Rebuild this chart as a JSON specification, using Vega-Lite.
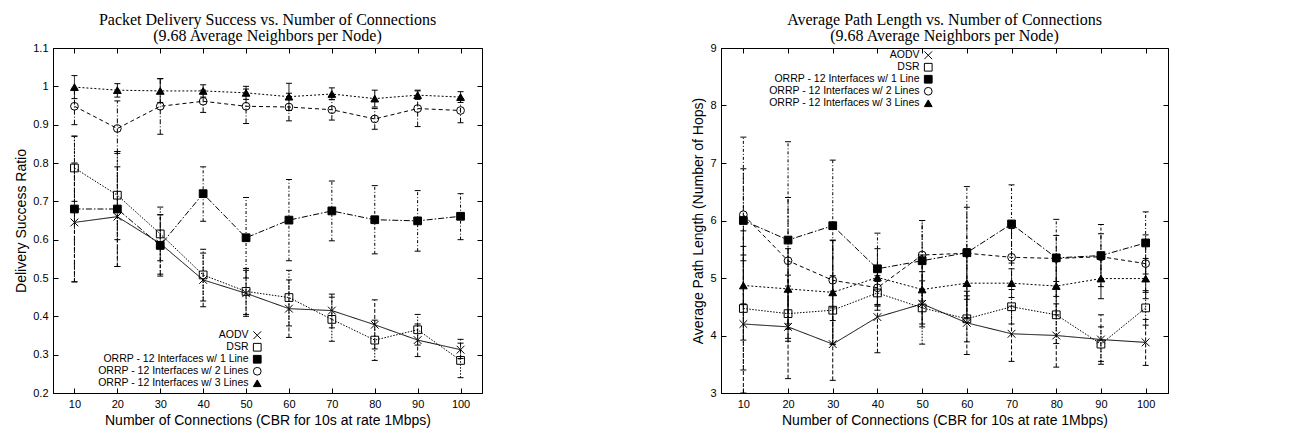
{
  "$schema": "https://vega.github.io/schema/vega-lite/v6.json",
  "padding": {"left": 14, "top": 11, "right": 5, "bottom": 2},
  "background": "white",
  "config": {
    "view": {"stroke": "black", "strokeWidth": 1},
    "axis": {"domainColor": "black", "tickColor": "black", "labelColor": "black", "titleColor": "black", "labelFont": "Liberation Sans", "titleFont": "Liberation Sans", "labelFontSize": 11, "titleFontSize": 14, "titleFontWeight": "normal", "grid": false, "tickSize": -5, "labelPadding": 10},
    "title": {"font": "Liberation Serif", "fontSize": 16, "fontWeight": "normal", "color": "black", "lineHeight": 16, "offset": -2},
    "legend": {"title": null, "labelFont": "Liberation Sans", "labelFontSize": 10.5, "labelColor": "black", "rowPadding": -1.8, "padding": 0, "symbolStrokeColor": "black", "symbolStrokeWidth": 1}
  },
  "datasets": {
    "pdr": [
      {"n": 10, "series": "AODV", "mean": 0.645, "lo": 0.49, "hi": 0.80},
      {"n": 20, "series": "AODV", "mean": 0.66, "lo": 0.53, "hi": 0.79},
      {"n": 30, "series": "AODV", "mean": 0.59, "lo": 0.51, "hi": 0.665},
      {"n": 40, "series": "AODV", "mean": 0.495, "lo": 0.425, "hi": 0.565},
      {"n": 50, "series": "AODV", "mean": 0.46, "lo": 0.40, "hi": 0.52},
      {"n": 60, "series": "AODV", "mean": 0.42, "lo": 0.345, "hi": 0.495},
      {"n": 70, "series": "AODV", "mean": 0.415, "lo": 0.37, "hi": 0.458},
      {"n": 80, "series": "AODV", "mean": 0.378, "lo": 0.315, "hi": 0.443},
      {"n": 90, "series": "AODV", "mean": 0.338, "lo": 0.295, "hi": 0.38},
      {"n": 100, "series": "AODV", "mean": 0.313, "lo": 0.29, "hi": 0.34},
      {"n": 10, "series": "DSR", "mean": 0.787, "lo": 0.70, "hi": 0.87},
      {"n": 20, "series": "DSR", "mean": 0.716, "lo": 0.60, "hi": 0.83},
      {"n": 30, "series": "DSR", "mean": 0.615, "lo": 0.545, "hi": 0.685},
      {"n": 40, "series": "DSR", "mean": 0.508, "lo": 0.44, "hi": 0.575},
      {"n": 50, "series": "DSR", "mean": 0.465, "lo": 0.405, "hi": 0.525},
      {"n": 60, "series": "DSR", "mean": 0.449, "lo": 0.375, "hi": 0.52},
      {"n": 70, "series": "DSR", "mean": 0.392, "lo": 0.335, "hi": 0.45},
      {"n": 80, "series": "DSR", "mean": 0.338, "lo": 0.285, "hi": 0.39},
      {"n": 90, "series": "DSR", "mean": 0.365, "lo": 0.325, "hi": 0.405},
      {"n": 100, "series": "DSR", "mean": 0.285, "lo": 0.24, "hi": 0.33},
      {"n": 10, "series": "ORRP - 12 Interfaces w/ 1 Line", "mean": 0.68, "lo": 0.49, "hi": 0.87},
      {"n": 20, "series": "ORRP - 12 Interfaces w/ 1 Line", "mean": 0.68, "lo": 0.53, "hi": 0.83},
      {"n": 30, "series": "ORRP - 12 Interfaces w/ 1 Line", "mean": 0.585, "lo": 0.505, "hi": 0.665},
      {"n": 40, "series": "ORRP - 12 Interfaces w/ 1 Line", "mean": 0.72, "lo": 0.648, "hi": 0.79},
      {"n": 50, "series": "ORRP - 12 Interfaces w/ 1 Line", "mean": 0.605, "lo": 0.50, "hi": 0.71},
      {"n": 60, "series": "ORRP - 12 Interfaces w/ 1 Line", "mean": 0.651, "lo": 0.545, "hi": 0.757},
      {"n": 70, "series": "ORRP - 12 Interfaces w/ 1 Line", "mean": 0.675, "lo": 0.597, "hi": 0.753},
      {"n": 80, "series": "ORRP - 12 Interfaces w/ 1 Line", "mean": 0.652, "lo": 0.563, "hi": 0.741},
      {"n": 90, "series": "ORRP - 12 Interfaces w/ 1 Line", "mean": 0.649, "lo": 0.57, "hi": 0.728},
      {"n": 100, "series": "ORRP - 12 Interfaces w/ 1 Line", "mean": 0.661, "lo": 0.60, "hi": 0.72},
      {"n": 10, "series": "ORRP - 12 Interfaces w/ 2 Lines", "mean": 0.948, "lo": 0.90, "hi": 0.995},
      {"n": 20, "series": "ORRP - 12 Interfaces w/ 2 Lines", "mean": 0.89, "lo": 0.825, "hi": 0.962},
      {"n": 30, "series": "ORRP - 12 Interfaces w/ 2 Lines", "mean": 0.948, "lo": 0.875, "hi": 1.02},
      {"n": 40, "series": "ORRP - 12 Interfaces w/ 2 Lines", "mean": 0.961, "lo": 0.932, "hi": 0.99},
      {"n": 50, "series": "ORRP - 12 Interfaces w/ 2 Lines", "mean": 0.948, "lo": 0.903, "hi": 0.993},
      {"n": 60, "series": "ORRP - 12 Interfaces w/ 2 Lines", "mean": 0.946, "lo": 0.91, "hi": 0.982},
      {"n": 70, "series": "ORRP - 12 Interfaces w/ 2 Lines", "mean": 0.939, "lo": 0.912, "hi": 0.966},
      {"n": 80, "series": "ORRP - 12 Interfaces w/ 2 Lines", "mean": 0.915, "lo": 0.888, "hi": 0.942},
      {"n": 90, "series": "ORRP - 12 Interfaces w/ 2 Lines", "mean": 0.942, "lo": 0.895, "hi": 0.99},
      {"n": 100, "series": "ORRP - 12 Interfaces w/ 2 Lines", "mean": 0.937, "lo": 0.905, "hi": 0.968},
      {"n": 10, "series": "ORRP - 12 Interfaces w/ 3 Lines", "mean": 0.998, "lo": 0.968, "hi": 1.028},
      {"n": 20, "series": "ORRP - 12 Interfaces w/ 3 Lines", "mean": 0.99, "lo": 0.972, "hi": 1.007},
      {"n": 30, "series": "ORRP - 12 Interfaces w/ 3 Lines", "mean": 0.988, "lo": 0.958, "hi": 1.02},
      {"n": 40, "series": "ORRP - 12 Interfaces w/ 3 Lines", "mean": 0.988, "lo": 0.972, "hi": 1.004},
      {"n": 50, "series": "ORRP - 12 Interfaces w/ 3 Lines", "mean": 0.983, "lo": 0.966, "hi": 1.0},
      {"n": 60, "series": "ORRP - 12 Interfaces w/ 3 Lines", "mean": 0.973, "lo": 0.937, "hi": 1.008},
      {"n": 70, "series": "ORRP - 12 Interfaces w/ 3 Lines", "mean": 0.98, "lo": 0.965, "hi": 0.996},
      {"n": 80, "series": "ORRP - 12 Interfaces w/ 3 Lines", "mean": 0.968, "lo": 0.946, "hi": 0.99},
      {"n": 90, "series": "ORRP - 12 Interfaces w/ 3 Lines", "mean": 0.977, "lo": 0.966, "hi": 0.988},
      {"n": 100, "series": "ORRP - 12 Interfaces w/ 3 Lines", "mean": 0.972, "lo": 0.958, "hi": 0.986}
    ],
    "path": [
      {"n": 10, "series": "AODV", "mean": 4.2, "lo": 3.0, "hi": 5.4},
      {"n": 20, "series": "AODV", "mean": 4.15, "lo": 3.25, "hi": 5.05},
      {"n": 30, "series": "AODV", "mean": 3.85, "lo": 3.22, "hi": 4.48},
      {"n": 40, "series": "AODV", "mean": 4.32, "lo": 3.7, "hi": 4.94},
      {"n": 50, "series": "AODV", "mean": 4.55, "lo": 4.15, "hi": 4.95},
      {"n": 60, "series": "AODV", "mean": 4.22, "lo": 3.67, "hi": 4.77},
      {"n": 70, "series": "AODV", "mean": 4.03, "lo": 3.55, "hi": 4.51},
      {"n": 80, "series": "AODV", "mean": 4.0, "lo": 3.45, "hi": 4.55},
      {"n": 90, "series": "AODV", "mean": 3.93, "lo": 3.5, "hi": 4.36},
      {"n": 100, "series": "AODV", "mean": 3.88, "lo": 3.48, "hi": 4.28},
      {"n": 10, "series": "DSR", "mean": 4.47, "lo": 3.4, "hi": 5.55},
      {"n": 20, "series": "DSR", "mean": 4.38, "lo": 3.9, "hi": 4.86},
      {"n": 30, "series": "DSR", "mean": 4.44, "lo": 3.84, "hi": 5.04},
      {"n": 40, "series": "DSR", "mean": 4.74, "lo": 4.44, "hi": 5.04},
      {"n": 50, "series": "DSR", "mean": 4.48, "lo": 3.85, "hi": 5.11},
      {"n": 60, "series": "DSR", "mean": 4.29, "lo": 3.89, "hi": 4.69},
      {"n": 70, "series": "DSR", "mean": 4.5, "lo": 4.2, "hi": 4.8},
      {"n": 80, "series": "DSR", "mean": 4.36, "lo": 3.86, "hi": 4.86},
      {"n": 90, "series": "DSR", "mean": 3.85, "lo": 3.55, "hi": 4.15},
      {"n": 100, "series": "DSR", "mean": 4.48, "lo": 4.18, "hi": 4.78},
      {"n": 10, "series": "ORRP - 12 Interfaces w/ 1 Line", "mean": 6.0, "lo": 4.55, "hi": 7.45},
      {"n": 20, "series": "ORRP - 12 Interfaces w/ 1 Line", "mean": 5.66, "lo": 3.95, "hi": 7.37},
      {"n": 30, "series": "ORRP - 12 Interfaces w/ 1 Line", "mean": 5.91, "lo": 4.77, "hi": 7.05},
      {"n": 40, "series": "ORRP - 12 Interfaces w/ 1 Line", "mean": 5.16, "lo": 4.54, "hi": 5.78},
      {"n": 50, "series": "ORRP - 12 Interfaces w/ 1 Line", "mean": 5.3, "lo": 4.6, "hi": 6.0},
      {"n": 60, "series": "ORRP - 12 Interfaces w/ 1 Line", "mean": 5.44, "lo": 4.29, "hi": 6.59},
      {"n": 70, "series": "ORRP - 12 Interfaces w/ 1 Line", "mean": 5.94, "lo": 5.26, "hi": 6.62},
      {"n": 80, "series": "ORRP - 12 Interfaces w/ 1 Line", "mean": 5.35, "lo": 4.68, "hi": 6.02},
      {"n": 90, "series": "ORRP - 12 Interfaces w/ 1 Line", "mean": 5.39, "lo": 4.85, "hi": 5.93},
      {"n": 100, "series": "ORRP - 12 Interfaces w/ 1 Line", "mean": 5.61, "lo": 5.07, "hi": 6.15},
      {"n": 10, "series": "ORRP - 12 Interfaces w/ 2 Lines", "mean": 6.1, "lo": 5.3, "hi": 6.9},
      {"n": 20, "series": "ORRP - 12 Interfaces w/ 2 Lines", "mean": 5.3, "lo": 4.2, "hi": 6.4},
      {"n": 30, "series": "ORRP - 12 Interfaces w/ 2 Lines", "mean": 4.96, "lo": 4.26, "hi": 5.66},
      {"n": 40, "series": "ORRP - 12 Interfaces w/ 2 Lines", "mean": 4.83, "lo": 4.53, "hi": 5.13},
      {"n": 50, "series": "ORRP - 12 Interfaces w/ 2 Lines", "mean": 5.4, "lo": 4.8, "hi": 6.0},
      {"n": 60, "series": "ORRP - 12 Interfaces w/ 2 Lines", "mean": 5.43, "lo": 4.63, "hi": 6.23},
      {"n": 70, "series": "ORRP - 12 Interfaces w/ 2 Lines", "mean": 5.36, "lo": 4.86, "hi": 5.86},
      {"n": 80, "series": "ORRP - 12 Interfaces w/ 2 Lines", "mean": 5.34, "lo": 4.94, "hi": 5.74},
      {"n": 90, "series": "ORRP - 12 Interfaces w/ 2 Lines", "mean": 5.37, "lo": 4.97, "hi": 5.77},
      {"n": 100, "series": "ORRP - 12 Interfaces w/ 2 Lines", "mean": 5.25, "lo": 4.75, "hi": 5.75},
      {"n": 10, "series": "ORRP - 12 Interfaces w/ 3 Lines", "mean": 4.87, "lo": 3.92, "hi": 5.82},
      {"n": 20, "series": "ORRP - 12 Interfaces w/ 3 Lines", "mean": 4.81, "lo": 4.11, "hi": 5.51},
      {"n": 30, "series": "ORRP - 12 Interfaces w/ 3 Lines", "mean": 4.75, "lo": 3.85, "hi": 5.65},
      {"n": 40, "series": "ORRP - 12 Interfaces w/ 3 Lines", "mean": 5.01, "lo": 4.51, "hi": 5.51},
      {"n": 50, "series": "ORRP - 12 Interfaces w/ 3 Lines", "mean": 4.8, "lo": 4.2, "hi": 5.4},
      {"n": 60, "series": "ORRP - 12 Interfaces w/ 3 Lines", "mean": 4.91, "lo": 4.31, "hi": 5.51},
      {"n": 70, "series": "ORRP - 12 Interfaces w/ 3 Lines", "mean": 4.91, "lo": 4.66, "hi": 5.16},
      {"n": 80, "series": "ORRP - 12 Interfaces w/ 3 Lines", "mean": 4.86, "lo": 4.36, "hi": 5.36},
      {"n": 90, "series": "ORRP - 12 Interfaces w/ 3 Lines", "mean": 4.99, "lo": 4.64, "hi": 5.34},
      {"n": 100, "series": "ORRP - 12 Interfaces w/ 3 Lines", "mean": 4.99, "lo": 4.64, "hi": 5.34}
    ]
  },
  "spacing": 208,
  "resolve": {"scale": {"x": "independent", "y": "independent", "shape": "independent", "fill": "independent", "stroke": "independent", "size": "independent", "strokeDash": "independent"}, "legend": {"shape": "independent", "fill": "independent", "stroke": "independent", "size": "independent", "strokeDash": "independent"}},
  "hconcat": [
    {
      "width": 429,
      "height": 345,
      "title": {"text": ["Packet Delivery Success vs. Number of Connections", "(9.68 Average Neighbors per Node)"]},
      "data": {"name": "pdr"},
      "resolve": {"axis": {"x": "independent", "y": "independent"}, "scale": {"strokeDash": "independent"}},
      "layer": [
        {
          "mark": {"type": "rule", "color": "black", "strokeWidth": 1},
          "encoding": {
            "x": {"field": "n", "type": "quantitative", "scale": {"domain": [5, 105], "nice": false}, "axis": null},
            "y": {"field": "lo", "type": "quantitative", "scale": {"domain": [0.2, 1.1], "nice": false, "zero": false}, "axis": null},
            "y2": {"field": "hi"},
            "strokeDash": {"field": "series", "type": "nominal", "legend": null, "scale": {"domain": ["AODV", "DSR", "ORRP - 12 Interfaces w/ 1 Line", "ORRP - 12 Interfaces w/ 2 Lines", "ORRP - 12 Interfaces w/ 3 Lines"], "range": [[4, 2], [1.5, 1.5], [3, 2, 1, 2], [5, 2, 1, 2], [1, 0]]}}
          }
        },
        {
          "mark": {"type": "tick", "orient": "horizontal", "size": 6, "thickness": 1, "color": "black", "opacity": 1},
          "encoding": {
            "x": {"field": "n", "type": "quantitative", "scale": {"domain": [5, 105], "nice": false}, "axis": null},
            "y": {"field": "lo", "type": "quantitative", "scale": {"domain": [0.2, 1.1], "nice": false, "zero": false}, "axis": null}
          }
        },
        {
          "mark": {"type": "tick", "orient": "horizontal", "size": 6, "thickness": 1, "color": "black", "opacity": 1},
          "encoding": {
            "x": {"field": "n", "type": "quantitative", "scale": {"domain": [5, 105], "nice": false}, "axis": null},
            "y": {"field": "hi", "type": "quantitative", "scale": {"domain": [0.2, 1.1], "nice": false, "zero": false}, "axis": null}
          }
        },
        {
          "mark": {"type": "line", "color": "black", "strokeWidth": 1},
          "encoding": {
            "x": {"field": "n", "type": "quantitative", "scale": {"domain": [5, 105], "nice": false}, "axis": {"title": "Number of Connections (CBR for 10s at rate 1Mbps)", "values": [10, 20, 30, 40, 50, 60, 70, 80, 90, 100]}},
            "y": {"field": "mean", "type": "quantitative", "scale": {"domain": [0.2, 1.1], "nice": false, "zero": false}, "axis": {"title": "Delivery Success Ratio", "values": [0.2, 0.3, 0.4, 0.5, 0.6, 0.7, 0.8, 0.9, 1.0, 1.1], "format": ".1~f"}},
            "strokeDash": {"field": "series", "type": "nominal", "legend": null, "scale": {"domain": ["AODV", "DSR", "ORRP - 12 Interfaces w/ 1 Line", "ORRP - 12 Interfaces w/ 2 Lines", "ORRP - 12 Interfaces w/ 3 Lines"], "range": [[1, 0], [1.5, 1.5], [6, 2, 1.5, 2], [4, 3], [2, 2]]}}
          }
        },
        {
          "mark": {"type": "point", "strokeWidth": 1, "opacity": 1},
          "encoding": {
            "x": {"field": "n", "type": "quantitative", "scale": {"domain": [5, 105], "nice": false}, "axis": {"orient": "top", "labels": false, "title": null, "domain": false, "values": [10, 20, 30, 40, 50, 60, 70, 80, 90, 100]}},
            "y": {"field": "mean", "type": "quantitative", "scale": {"domain": [0.2, 1.1], "nice": false, "zero": false}, "axis": {"orient": "right", "labels": false, "title": null, "domain": false, "values": [0.2, 0.3, 0.4, 0.5, 0.6, 0.7, 0.8, 0.9, 1.0, 1.1]}},
            "shape": {"field": "series", "type": "nominal", "scale": {"domain": ["AODV", "DSR", "ORRP - 12 Interfaces w/ 1 Line", "ORRP - 12 Interfaces w/ 2 Lines", "ORRP - 12 Interfaces w/ 3 Lines"], "range": ["M-1,-1L1,1M-1,1L1,-1", "square", "square", "circle", "triangle-up"]}, "legend": {"orient": "none", "legendX": 199, "legendY": 282, "labelAlign": "right", "labelOffset": -14, "rowPadding": -1.8}},
            "fill": {"field": "series", "type": "nominal", "scale": {"domain": ["AODV", "DSR", "ORRP - 12 Interfaces w/ 1 Line", "ORRP - 12 Interfaces w/ 2 Lines", "ORRP - 12 Interfaces w/ 3 Lines"], "range": ["transparent", "transparent", "black", "transparent", "black"]}, "legend": {"orient": "none", "legendX": 199, "legendY": 282, "labelAlign": "right", "labelOffset": -14, "rowPadding": -1.8}},
            "stroke": {"field": "series", "type": "nominal", "scale": {"domain": ["AODV", "DSR", "ORRP - 12 Interfaces w/ 1 Line", "ORRP - 12 Interfaces w/ 2 Lines", "ORRP - 12 Interfaces w/ 3 Lines"], "range": ["black", "black", "black", "black", "black"]}, "legend": {"orient": "none", "legendX": 199, "legendY": 282, "labelAlign": "right", "labelOffset": -14, "rowPadding": -1.8}},
            "size": {"field": "series", "type": "nominal", "scale": {"domain": ["AODV", "DSR", "ORRP - 12 Interfaces w/ 1 Line", "ORRP - 12 Interfaces w/ 2 Lines", "ORRP - 12 Interfaces w/ 3 Lines"], "range": [60, 60, 100, 60, 55]}, "legend": {"orient": "none", "legendX": 199, "legendY": 282, "labelAlign": "right", "labelOffset": -14, "rowPadding": -1.8}}
          }
        }
      ]
    },
    {
      "width": 447,
      "height": 345,
      "title": {"text": ["Average Path Length vs. Number of Connections", "(9.68 Average Neighbors per Node)"]},
      "data": {"name": "path"},
      "resolve": {"axis": {"x": "independent", "y": "independent"}, "scale": {"strokeDash": "independent"}},
      "layer": [
        {
          "mark": {"type": "rule", "color": "black", "strokeWidth": 1},
          "encoding": {
            "x": {"field": "n", "type": "quantitative", "scale": {"domain": [5, 105], "nice": false}, "axis": null},
            "y": {"field": "lo", "type": "quantitative", "scale": {"domain": [3, 9], "nice": false, "zero": false}, "axis": null},
            "y2": {"field": "hi"},
            "strokeDash": {"field": "series", "type": "nominal", "legend": null, "scale": {"domain": ["AODV", "DSR", "ORRP - 12 Interfaces w/ 1 Line", "ORRP - 12 Interfaces w/ 2 Lines", "ORRP - 12 Interfaces w/ 3 Lines"], "range": [[4, 2], [1.5, 1.5], [3, 2, 1, 2], [5, 2, 1, 2], [1, 0]]}}
          }
        },
        {
          "mark": {"type": "tick", "orient": "horizontal", "size": 6, "thickness": 1, "color": "black", "opacity": 1},
          "encoding": {
            "x": {"field": "n", "type": "quantitative", "scale": {"domain": [5, 105], "nice": false}, "axis": null},
            "y": {"field": "lo", "type": "quantitative", "scale": {"domain": [3, 9], "nice": false, "zero": false}, "axis": null}
          }
        },
        {
          "mark": {"type": "tick", "orient": "horizontal", "size": 6, "thickness": 1, "color": "black", "opacity": 1},
          "encoding": {
            "x": {"field": "n", "type": "quantitative", "scale": {"domain": [5, 105], "nice": false}, "axis": null},
            "y": {"field": "hi", "type": "quantitative", "scale": {"domain": [3, 9], "nice": false, "zero": false}, "axis": null}
          }
        },
        {
          "mark": {"type": "line", "color": "black", "strokeWidth": 1},
          "encoding": {
            "x": {"field": "n", "type": "quantitative", "scale": {"domain": [5, 105], "nice": false}, "axis": {"title": "Number of Connections (CBR for 10s at rate 1Mbps)", "values": [10, 20, 30, 40, 50, 60, 70, 80, 90, 100]}},
            "y": {"field": "mean", "type": "quantitative", "scale": {"domain": [3, 9], "nice": false, "zero": false}, "axis": {"title": "Average Path Length (Number of Hops)", "values": [3, 4, 5, 6, 7, 8, 9], "format": "d"}},
            "strokeDash": {"field": "series", "type": "nominal", "legend": null, "scale": {"domain": ["AODV", "DSR", "ORRP - 12 Interfaces w/ 1 Line", "ORRP - 12 Interfaces w/ 2 Lines", "ORRP - 12 Interfaces w/ 3 Lines"], "range": [[1, 0], [1.5, 1.5], [6, 2, 1.5, 2], [4, 3], [2, 2]]}}
          }
        },
        {
          "mark": {"type": "point", "strokeWidth": 1, "opacity": 1},
          "encoding": {
            "x": {"field": "n", "type": "quantitative", "scale": {"domain": [5, 105], "nice": false}, "axis": {"orient": "top", "labels": false, "title": null, "domain": false, "values": [10, 20, 30, 40, 50, 60, 70, 80, 90, 100]}},
            "y": {"field": "mean", "type": "quantitative", "scale": {"domain": [3, 9], "nice": false, "zero": false}, "axis": {"orient": "right", "labels": false, "title": null, "domain": false, "values": [3, 4, 5, 6, 7, 8, 9]}},
            "shape": {"field": "series", "type": "nominal", "scale": {"domain": ["AODV", "DSR", "ORRP - 12 Interfaces w/ 1 Line", "ORRP - 12 Interfaces w/ 2 Lines", "ORRP - 12 Interfaces w/ 3 Lines"], "range": ["M-1,-1L1,1M-1,1L1,-1", "square", "square", "circle", "triangle-up"]}, "legend": {"orient": "none", "legendX": 202, "legendY": 2, "labelAlign": "right", "labelOffset": -14, "rowPadding": -1.8}},
            "fill": {"field": "series", "type": "nominal", "scale": {"domain": ["AODV", "DSR", "ORRP - 12 Interfaces w/ 1 Line", "ORRP - 12 Interfaces w/ 2 Lines", "ORRP - 12 Interfaces w/ 3 Lines"], "range": ["transparent", "transparent", "black", "transparent", "black"]}, "legend": {"orient": "none", "legendX": 202, "legendY": 2, "labelAlign": "right", "labelOffset": -14, "rowPadding": -1.8}},
            "stroke": {"field": "series", "type": "nominal", "scale": {"domain": ["AODV", "DSR", "ORRP - 12 Interfaces w/ 1 Line", "ORRP - 12 Interfaces w/ 2 Lines", "ORRP - 12 Interfaces w/ 3 Lines"], "range": ["black", "black", "black", "black", "black"]}, "legend": {"orient": "none", "legendX": 202, "legendY": 2, "labelAlign": "right", "labelOffset": -14, "rowPadding": -1.8}},
            "size": {"field": "series", "type": "nominal", "scale": {"domain": ["AODV", "DSR", "ORRP - 12 Interfaces w/ 1 Line", "ORRP - 12 Interfaces w/ 2 Lines", "ORRP - 12 Interfaces w/ 3 Lines"], "range": [60, 60, 100, 60, 55]}, "legend": {"orient": "none", "legendX": 202, "legendY": 2, "labelAlign": "right", "labelOffset": -14, "rowPadding": -1.8}}
          }
        }
      ]
    }
  ]
}
